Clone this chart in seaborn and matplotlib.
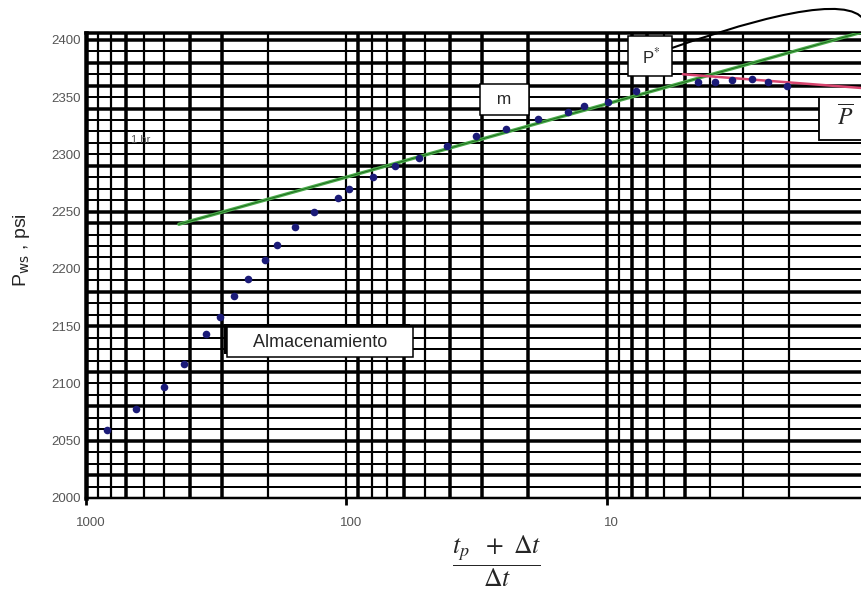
"""Gráfico de Horner — restauración de presión (Pws vs (tp+Δt)/Δt)."""

import matplotlib
matplotlib.use("Agg")
import matplotlib.pyplot as plt
import matplotlib.patheffects as pe
from matplotlib.patches import Rectangle
from matplotlib.ticker import NullLocator
from matplotlib.transforms import ScaledTranslation
import numpy as np
import pandas as pd
import seaborn as sns

# --- datos ---
horner_t = [830, 642, 501, 420, 345, 305, 270, 238, 205, 184,
            158, 133, 108, 98, 78.7, 64.8, 52.4, 41.2, 31.9, 24.4,
            18.4, 14.1, 12.2, 9.9, 7.7, 4.47, 3.84, 3.31, 2.77, 2.40, 2.03]
pws = [2059, 2078, 2097, 2117, 2143, 2158, 2176, 2191, 2208, 2221,
       2237, 2250, 2262, 2270, 2280, 2290, 2297, 2307, 2316, 2322,
       2331, 2337, 2342, 2346, 2355, 2363, 2363, 2365, 2366, 2363, 2360]

recta_t = [440, 1.0]          # recta semilog (pendiente m)
recta_p = [2239, 2408]
pbar_t = [5.1, 1.0]           # tendencia a presión promedio
pbar_p = [2370, 2357.6]

xtick_vals = [1000, 100, 10]
xtick_labels = ["1000", "100", "10"]
ytick_vals = [2000, 2050, 2100, 2150, 2200, 2250, 2300, 2350, 2400]

# --- estilo ---
PX = 0.72  # puntos por pixel a 100 dpi
thick_v = {700, 400, 300, 90, 60, 40, 30, 20, 10, 8, 7, 5}
thick_h = {2020, 2050, 2080, 2110, 2150, 2180, 2240, 2250, 2290,
           2340, 2360, 2380, 2400}

sns.set_theme(style="white")
plt.rcParams["font.family"] = ["Liberation Sans", "DejaVu Sans"]
plt.rcParams["mathtext.fontset"] = "stix"

fig = plt.figure(figsize=(8.61, 5.90), dpi=100)
ax = fig.add_axes([86 / 861, 92 / 590, 1 - 86 / 861, 465 / 590])
ax.set_xscale("log")
ax.set_xlim(1000, 1.055)
ax.set_ylim(2000, 2406)

# papel semilog
for dec in [1, 10, 100]:
    for k in range(1, 10):
        v = k * dec
        lw = 3.5 if v in thick_v else 2.2
        ax.axvline(v, color="black", lw=lw * PX, zorder=0.5)
for v in range(2010, 2401, 10):
    lw = 3.5 if v in thick_h else 2.0
    ax.axhline(v, color="black", lw=lw * PX, zorder=0.5)

# rectas y puntos
sns.lineplot(x=recta_t, y=recta_p, color="#4caf4c", lw=2.4, ax=ax,
             estimator=None, sort=False, zorder=3)
sns.lineplot(x=recta_t, y=recta_p, color="#1f6b1f", lw=0.7, ax=ax,
             estimator=None, sort=False, zorder=3)
sns.lineplot(x=pbar_t, y=pbar_p, color="#d8456f", lw=1.8, ax=ax,
             estimator=None, sort=False, zorder=3)
df = pd.DataFrame({"t": horner_t, "p": pws})
sns.scatterplot(data=df, x="t", y="p", color="#1b1b78", s=30,
                linewidth=0, ax=ax, zorder=4)

# ejes
for side in ["left", "bottom", "top"]:
    ax.spines[side].set_color("black")
ax.spines["left"].set_linewidth(4.5 * PX)
ax.spines["bottom"].set_linewidth(2.5 * PX)
ax.spines["top"].set_linewidth(3.5 * PX)
ax.spines["right"].set_visible(False)

ax.set_xticks(xtick_vals)
ax.set_xticklabels(xtick_labels)
ax.xaxis.set_minor_locator(NullLocator())
ax.set_yticks(ytick_vals)
ax.tick_params(axis="x", length=5, width=2, color="black", pad=9,
               labelsize=9.5, labelcolor="#555555", bottom=True)
ax.tick_params(axis="y", length=0, pad=4, labelsize=9.5, labelcolor="#555555")
offset = ScaledTranslation(0.05, 0, fig.dpi_scale_trans)
for lbl in ax.get_xticklabels():
    lbl.set_transform(lbl.get_transform() + offset)
ax.set_xlabel("")
ax.set_ylabel("")

# cuadros de texto
box = dict(boxstyle="square,pad=0.45", fc="white", ec="black", lw=1.1)
ax.text(24.7, 2348, "  m  ", fontsize=12.5, ha="center", va="center",
        bbox=box, zorder=6)
alm = ax.text(126, 2136, "    Almacenamiento    ", fontsize=13,
              ha="center", va="center", zorder=6,
              bbox=dict(boxstyle="square,pad=0.35", fc="white", ec="black", lw=1.1))
alm.get_bbox_patch().set_path_effects(
    [pe.withSimplePatchShadow(offset=(-2.5, 2.5), shadow_rgbFace="black", alpha=1)])

# cuadro de P promedio (cortado por el borde derecho, como en el original)
fig.patches.append(Rectangle((819 / 861, 1 - 140 / 590), 60 / 861, 43 / 590,
                             transform=fig.transFigure, fc="white", ec="black",
                             lw=1.3, zorder=6))
fig.text(845 / 861, 1 - 118 / 590, r"$\overline{P}$", fontsize=17,
         ha="center", va="center", zorder=7)

ax.annotate(r" P$^{*}$ ", xy=(1.0, 2408), xytext=(6.83, 2386),
            fontsize=12, ha="center", va="center", zorder=6,
            bbox=dict(boxstyle="square,pad=0.6", fc="white", ec="black", lw=1.1),
            arrowprops=dict(arrowstyle="-", color="black", lw=1.5,
                            connectionstyle="angle3,angleA=20,angleB=90",
                            shrinkA=0, shrinkB=0),
            annotation_clip=False)
ax.text(614, 2313, "1 hr", fontsize=8, color="#555555", ha="center",
        va="center", zorder=5)

# etiquetas de ejes
fig.text(22 / 861, 1 - 250 / 590, r"P$_{\mathrm{ws}}$ , psi", rotation=90,
         fontsize=14, ha="center", va="center", math_fontfamily="dejavusans")
fig.text(497 / 861, 1 - 561 / 590,
         r"$\dfrac{t_{p}\ \ +\ \Delta t}{\Delta t}$",
         fontsize=18.5, ha="center", va="center")

fig.savefig("out.png", dpi=100)
